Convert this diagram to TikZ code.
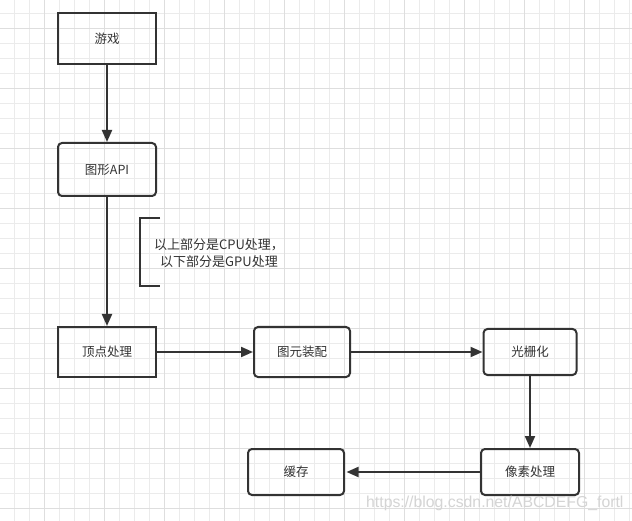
\documentclass[tikz,border=0pt]{standalone}
\usepackage{fontspec}
\setmainfont{Liberation Sans}
\newfontfamily\cjk{Noto Sans CJK SC}
\usetikzlibrary{arrows.meta}
\definecolor{ink}{HTML}{333333}
\definecolor{gridminor}{HTML}{EBEBEB}
\definecolor{gridmajor}{HTML}{DEDEDE}
\definecolor{wm}{HTML}{D4D4D4}
\tikzset{
  box/.style={draw=ink, line width=2pt, minimum width=98pt, minimum height=50pt,
    inner sep=0pt, font=\cjk\fontsize{12.5pt}{15pt}\selectfont, text=ink},
  rbox/.style={box, rounded corners=4pt},
  arr/.style={draw=ink, line width=2pt, -{Triangle[length=12pt,width=10pt]}},
  note/.style={font=\cjk\fontsize{13pt}{17pt}\selectfont, text=ink, align=center, inner sep=0pt},
  bracket/.style={draw=ink, line width=2pt},
  watermark/.style={font=\fontsize{15.8pt}{18pt}\selectfont, text=wm, anchor=west, inner sep=0pt}
}
\begin{document}
\begin{tikzpicture}[x=1pt,y=-1pt]
\useasboundingbox (0,0) rectangle (632,521);
\begin{scope}
\clip (0,0) rectangle (632,521);
\fill[white] (0,0) rectangle (632,521);
\draw[gridminor, line width=1pt] foreach \x in {14.5,29.5,...,630} {(\x,0) -- (\x,521)};
\draw[gridminor, line width=1pt] foreach \y in {13.3,28.3,...,521} {(0,\y) -- (632,\y)};
\draw[gridmajor, line width=1pt] foreach \x in {44.5,104.5,...,630} {(\x,0) -- (\x,521)};
\draw[gridmajor, line width=1pt] foreach \y in {28.3,88.3,...,521} {(0,\y) -- (632,\y)};

\node[box]  (youxi)     at (107,38.5) [minimum height=51pt] {游戏};
\node[rbox] (api)       at (107,169.5) [minimum height=53pt] {图形API};
\node[box]  (dingdian)  at (107,352) {顶点处理};
\node[rbox] (tuyuan)    at (302,352) [minimum width=96pt] {图元装配};
\node[rbox] (guangshan) at (530,352) [minimum width=93pt, minimum height=46pt] {光栅化};
\node[rbox] (xiangsu)   at (530,472) [minimum height=46pt] {像素处理};
\node[rbox] (huancun)   at (296,472) [minimum width=96pt, minimum height=46pt] {缓存};

\draw[arr] (youxi) -- (api);
\draw[arr] (api) -- (dingdian);
\draw[arr] (dingdian) -- (tuyuan);
\draw[arr] (tuyuan) -- (guangshan);
\draw[arr] (guangshan) -- (xiangsu);
\draw[arr, shorten >=1.5pt] (xiangsu) -- (huancun);

\coordinate (btop) at (160,218);
\coordinate (bbot) at (160,286);
\draw[bracket] (btop) -- (140,218) -- (140,286) -- (bbot);
\node[note] (noteText) at (219,253.5) {以上部分是CPU处理，\\以下部分是GPU处理};

\node[watermark] (wmark) at (366,503) {https://blog.csdn.net/ABCDEFG\_fortl};
\end{scope}
\end{tikzpicture}
\end{document}
